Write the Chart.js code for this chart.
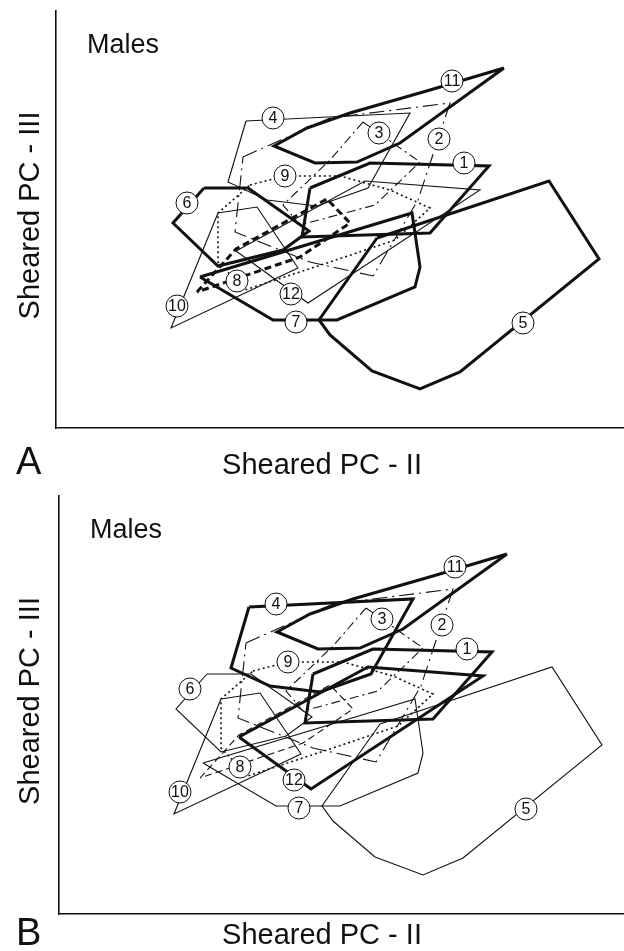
<!DOCTYPE html>
<html lang="en">
<head>
<meta charset="UTF-8" />
<title>Males - Sheared PC II vs Sheared PC III</title>
<script src="https://cdn.jsdelivr.net/npm/chart.js"></script>
<style>
  * { margin: 0; padding: 0; box-sizing: border-box; }
  body { background: #fff; width: 624px; height: 951px; overflow: hidden; }
  canvas { display: block; }
</style>
</head>
<body>
<canvas id="panelA" width="624" height="485"></canvas>
<canvas id="panelB" width="624" height="466"></canvas>

<script>
// group numbers (one convex hull per group)
const groups = ['1', '2', '3', '4', '5', '6', '7', '8', '9', '10', '11', '12'];

// hull vertices: sheared PC-II (x) and sheared PC-III (y)
const hullX = [
  [25.4, 31.4, 43.3, 37.4, 24.6],
  [18.7, 27.4, 39.4, 36.2, 31.7, 25.4, 17.9],
  [30.7, 36.4, 31.9, 24.4, 22.7, 27.4],
  [19.0, 35.4, 31.2, 26.1, 21.1, 17.2],
  [32.1, 49.3, 54.3, 40.4, 36.4, 31.6, 27.4, 26.3],
  [14.8, 19.2, 25.3, 22.7, 16.2, 11.7],
  [14.4, 35.6, 36.4, 35.9, 28.1, 21.7],
  [14.1, 18.0, 27.1, 29.4, 24.4],
  [19.4, 22.9, 28.4, 33.4, 37.4, 33.9, 27.4, 18.9, 16.2, 16.2],
  [16.2, 20.1, 24.2, 11.5],
  [44.8, 37.4, 29.4, 25.1, 21.8, 25.9, 30.1, 34.4],
  [18.0, 30.9, 42.4, 25.2]
];
const hullY = [
  [24.0, 26.5, 26.2, 19.5, 19.1],
  [27.1, 31.0, 32.5, 22.8, 15.2, 16.6, 19.6],
  [30.6, 26.6, 22.3, 20.3, 22.3, 26.8],
  [30.7, 31.5, 24.0, 22.2, 22.8, 24.6],
  [19.0, 24.7, 16.9, 5.6, 3.9, 5.7, 9.3, 10.8],
  [24.0, 24.0, 19.7, 17.8, 16.2, 20.5],
  [15.1, 21.5, 16.1, 14.1, 10.8, 10.8],
  [13.6, 17.9, 22.9, 20.5, 17.1],
  [24.3, 25.2, 25.2, 23.8, 22.0, 18.8, 16.6, 13.8, 16.6, 21.5],
  [21.5, 22.1, 16.0, 10.0],
  [36.0, 33.8, 31.5, 30.0, 28.2, 26.5, 26.6, 28.5],
  [17.7, 24.7, 23.8, 12.5]
];

// where each group number sits
const labelX = [40.8, 38.3, 32.3, 21.7, 46.7, 13.1, 24.0, 18.1, 22.9, 12.1, 39.6, 23.5];
const labelY = [26.5, 28.9, 29.5, 31.0, 10.5, 22.5, 10.6, 14.7, 25.2, 12.2, 34.7, 13.4];

// line style of each hull in panel A and panel B
const styleA = ['thick', 'longDashDot', 'dashDot', 'thin', 'thick', 'thick', 'thick', 'thickDash', 'dotted', 'thin', 'thick', 'thin'];
const styleB = ['thick', 'longDashDot', 'dashDot', 'thick', 'thin', 'thin', 'thin', 'dashed', 'dotted', 'thin', 'thick', 'thick'];

const lineStyles = {
  thick:       { w: 3,   dash: [] },
  thin:        { w: 1.1, dash: [] },
  dotted:      { w: 1.6, dash: [2, 3] },
  dashed:      { w: 1.1, dash: [7, 4] },
  thickDash:   { w: 3,   dash: [7, 4] },
  dashDot:     { w: 1.1, dash: [9, 4, 2, 4] },
  longDashDot: { w: 1.1, dash: [15, 5, 2, 5] }
};

const FONT = "'Liberation Sans', Arial, Helvetica, sans-serif";

function buildDatasets(styles) {
  return groups.map((g, i) => {
    const pts = hullX[i].map((x, j) => ({ x: x, y: hullY[i][j] }));
    pts.push(pts[0]); // close the hull
    const s = lineStyles[styles[i]];
    return {
      label: g,
      data: pts,
      showLine: true,
      fill: false,
      tension: 0,
      borderColor: '#111',
      borderWidth: s.w,
      borderDash: s.dash,
      borderJoinStyle: 'miter',
      pointRadius: 0,
      pointHoverRadius: 0
    };
  });
}

// circled group numbers + panel texts
const hullLabels = {
  id: 'hullLabels',
  afterDatasetsDraw(chart) {
    const ctx = chart.ctx;
    const xs = chart.scales.x, ys = chart.scales.y;
    ctx.save();
    ctx.setLineDash([]);
    groups.forEach((g, i) => {
      const px = xs.getPixelForValue(labelX[i]);
      const py = ys.getPixelForValue(labelY[i]);
      ctx.beginPath();
      ctx.arc(px, py, 11, 0, Math.PI * 2);
      ctx.fillStyle = '#fff';
      ctx.fill();
      ctx.lineWidth = 1;
      ctx.strokeStyle = '#111';
      ctx.stroke();
      ctx.fillStyle = '#111';
      ctx.font = '16px ' + FONT;
      ctx.textAlign = 'center';
      ctx.textBaseline = 'middle';
      ctx.fillText(g, px, py + 1);
    });
    ctx.restore();
  },
  afterDraw(chart, args, opts) {
    const ctx = chart.ctx;
    const a = chart.chartArea;
    ctx.save();
    ctx.fillStyle = '#111';
    ctx.textBaseline = 'alphabetic';
    ctx.textAlign = 'left';
    ctx.font = '27px ' + FONT;
    ctx.fillText('Males', a.left + 31, a.top + 42);
    ctx.font = '38px ' + FONT;
    ctx.fillText(opts.letter, 16, a.bottom + opts.letterDy);
    ctx.textAlign = 'center';
    ctx.font = '29px ' + FONT;
    ctx.fillText('Sheared PC - II', 322, a.bottom + opts.titleDy);
    ctx.translate(31, (a.top + a.bottom) / 2 - 4);
    ctx.rotate(-Math.PI / 2);
    ctx.textBaseline = 'middle';
    ctx.fillText('Sheared PC - III', 0, 0);
    ctx.restore();
  }
};

function makePanel(id, styles, xMax, yMax, padding, letter, letterDy, titleDy) {
  return new Chart(document.getElementById(id), {
    type: 'scatter',
    data: { datasets: buildDatasets(styles) },
    options: {
      responsive: false,
      animation: false,
      layout: { padding: padding },
      plugins: {
        legend: { display: false },
        tooltip: { enabled: false },
        hullLabels: { letter: letter, letterDy: letterDy, titleDy: titleDy }
      },
      scales: {
        x: {
          type: 'linear', min: 0, max: xMax,
          ticks: { display: false },
          grid: { display: false, drawTicks: false },
          border: { display: true, color: '#111', width: 1.6 }
        },
        y: {
          type: 'linear', min: 0, max: yMax,
          ticks: { display: false },
          grid: { display: false, drawTicks: false },
          border: { display: true, color: '#111', width: 1.6 }
        }
      }
    },
    plugins: [hullLabels]
  });
}

makePanel('panelA', styleA, 56.8, 41.7, { left: 56, top: 11, right: 0, bottom: 57 }, 'A', 46, 46);
makePanel('panelB', styleB, 56.5, 41.8, { left: 59, top: 11, right: 0, bottom: 37 }, 'B', 31, 30);
</script>
</body>
</html>
